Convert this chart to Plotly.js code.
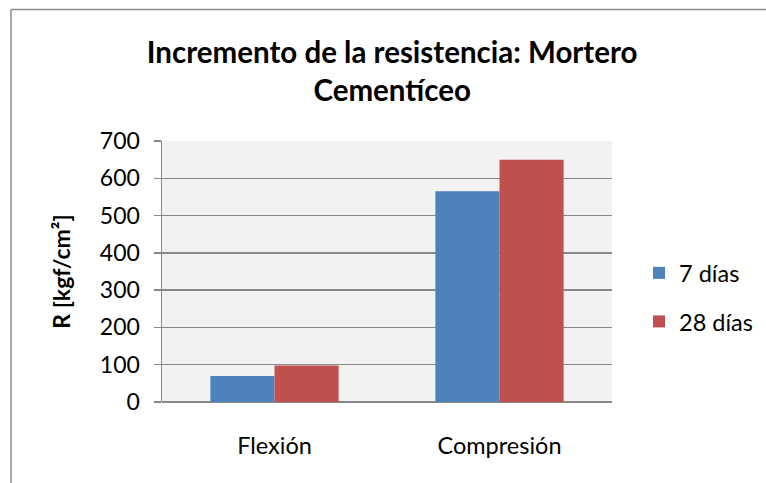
<!DOCTYPE html>
<html>
<head>
<meta charset="utf-8">
<script src="https://cdn.plot.ly/plotly-3.0.1.min.js"></script>
<style>
  html, body { margin: 0; padding: 0; background: #ffffff; }
  #chart { width: 766px; height: 483px; }
</style>
</head>
<body>
<div id="chart"></div>
<script>
const categories = ["Flexión", "Compresión"];
const seriesNames = ["7 días", "28 días"];
const values7 = [70, 565];
const values28 = [98, 650];
const yTicks = [0, 100, 200, 300, 400, 500, 600, 700];
const titleText = "Incremento de la resistencia: Mortero<br>Cementíceo";
const yTitleText = "R [kgf/cm²]";

const FONT = "Lato, 'Open Sans', sans-serif";
const GRID = "#888888";

const traces = [
  { type: "bar", name: seriesNames[0], x: categories, y: values7,
    marker: { color: "#4f81bd" }, legendgroup: "a", hoverinfo: "skip" },
  { type: "bar", name: seriesNames[1], x: categories, y: values28,
    marker: { color: "#c0504d" }, legendgroup: "b", hoverinfo: "skip" }
];

const layout = {
  width: 766, height: 483,
  paper_bgcolor: "#ffffff",
  plot_bgcolor: "#f2f2f2",
  margin: { l: 162, r: 154, t: 141, b: 81, pad: 0, autoexpand: false },
  font: { family: FONT, color: "#000000", size: 22 },
  barmode: "group",
  bargap: 0.43,
  bargroupgap: 0,
  title: {
    text: titleText,
    font: { family: FONT, size: 29.5, color: "#000000", weight: "bold" },
    x: 0.512, xref: "container", xanchor: "center",
    y: 1 - 63 / 483, yref: "container", yanchor: "top"
  },
  xaxis: {
    type: "category",
    showgrid: false,
    showline: false,
    zeroline: false,
    ticks: "",
    ticklabelstandoff: 27,
    tickfont: { family: FONT, size: 23.5, color: "#000000" },
    fixedrange: true,
    automargin: false
  },
  yaxis: {
    range: [0, 700],
    tickvals: yTicks,
    ticktext: yTicks.map(String),
    showgrid: true,
    gridcolor: GRID,
    gridwidth: 1.5,
    zeroline: true,
    zerolinecolor: GRID,
    zerolinewidth: 1.5,
    showline: true,
    linecolor: GRID,
    linewidth: 1.5,
    ticks: "outside",
    ticklen: 7,
    tickwidth: 1.5,
    tickcolor: GRID,
    ticklabelstandoff: 9,
    tickfont: { family: FONT, size: 23, color: "#000000" },
    title: {
      text: yTitleText,
      font: { family: FONT, size: 23, color: "#000000", weight: "bold" },
      standoff: 23
    },
    fixedrange: true,
    automargin: false
  },
  legend: {
    x: 1.06, xanchor: "left",
    y: 0.40, yanchor: "middle",
    traceorder: "grouped",
    tracegroupgap: 15,
    font: { family: FONT, size: 23.5, color: "#000000" },
    bgcolor: "rgba(0,0,0,0)",
    itemwidth: 30
  },
  showlegend: true,
  shapes: [
    { type: "line", xref: "paper", yref: "paper", x0: -0.3356, x1: 1.36, y0: 1.504, y1: 1.504,
      line: { color: "#8a8a8a", width: 1.5 } },
    { type: "line", xref: "paper", yref: "paper", x0: -0.3356, x1: -0.3356, y0: 1.504, y1: -0.32,
      line: { color: "#8a8a8a", width: 1.5 } }
  ]
};

Plotly.newPlot("chart", traces, layout, { displayModeBar: false, staticPlot: true });
</script>
</body>
</html>
